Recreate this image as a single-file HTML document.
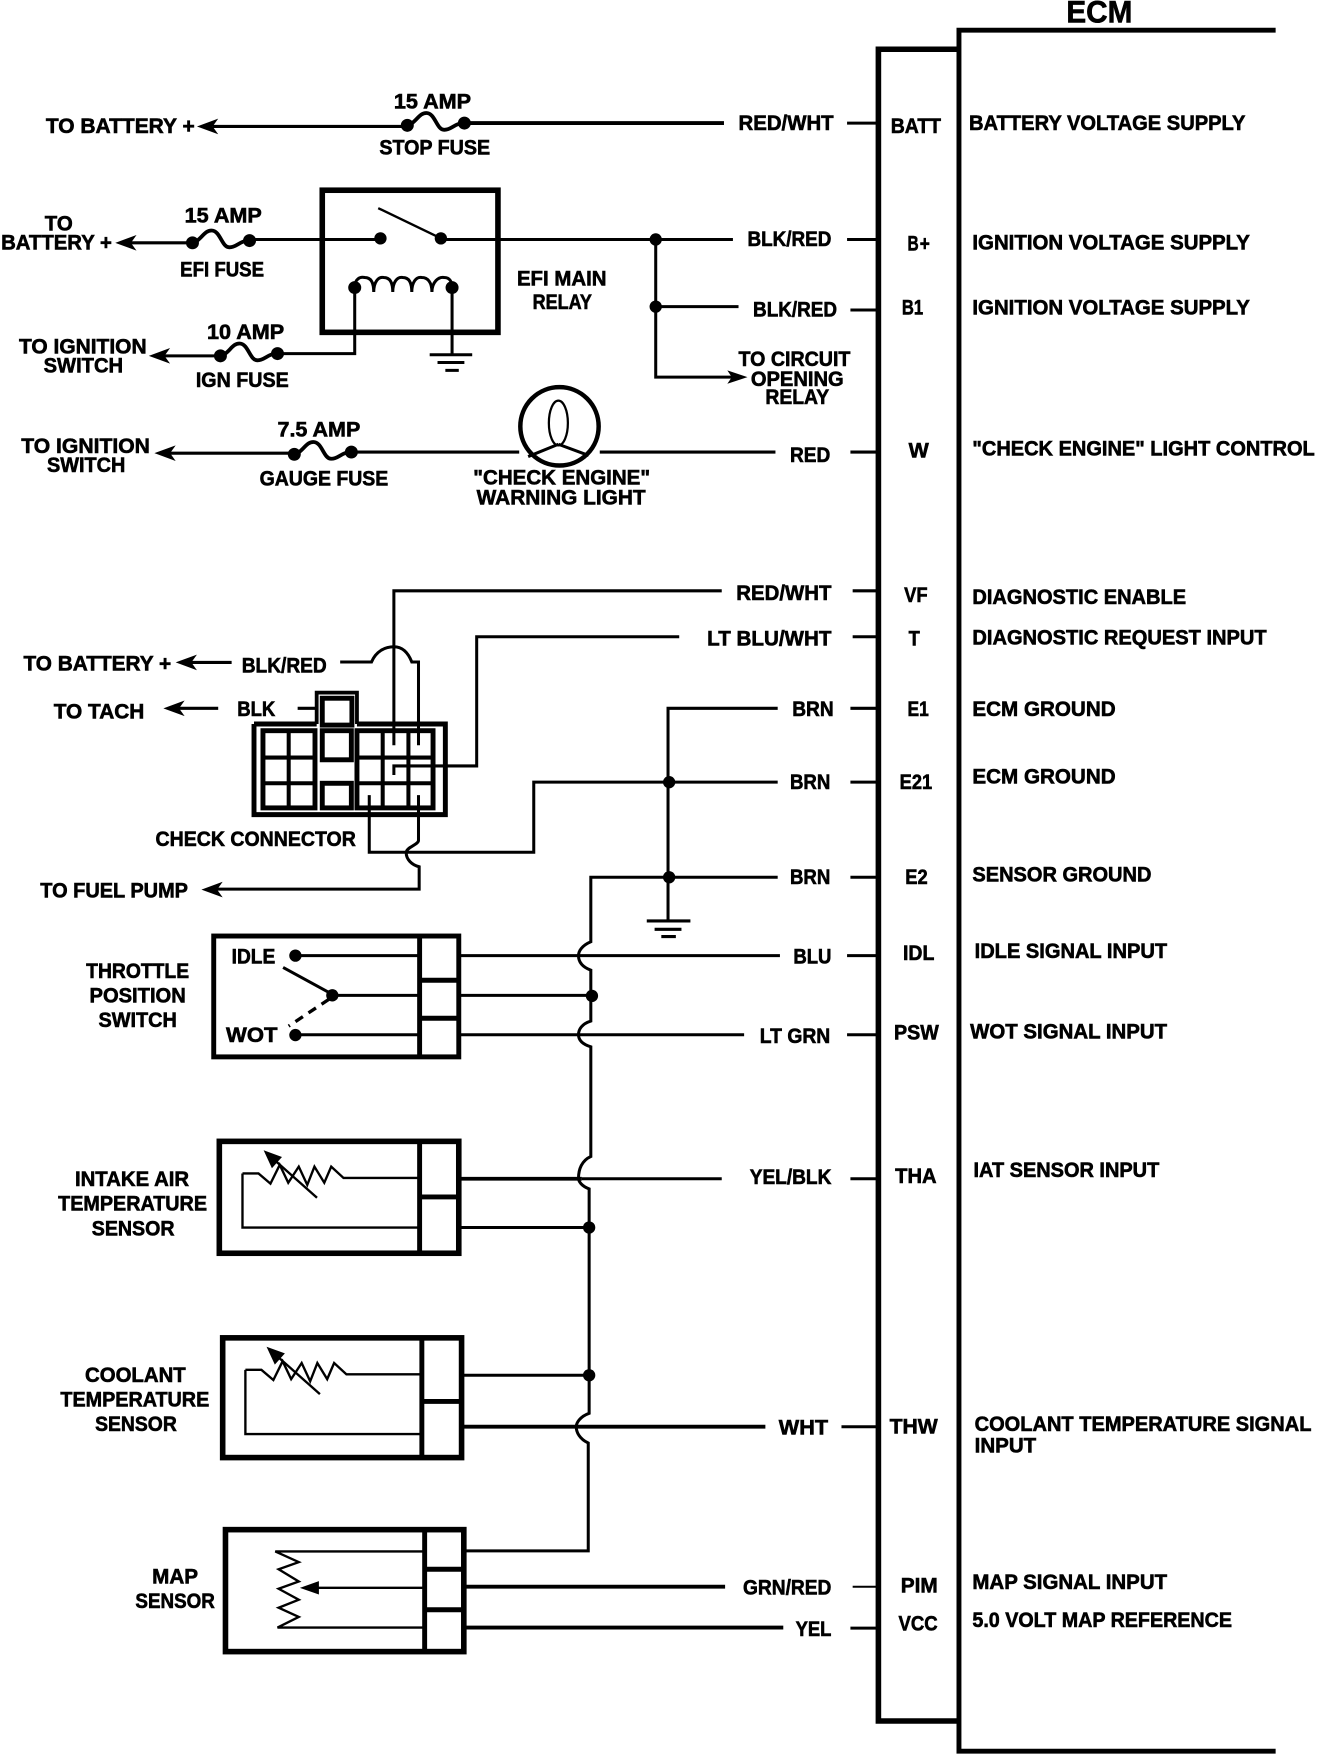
<!DOCTYPE html>
<html><head><meta charset="utf-8"><style>
html,body{margin:0;padding:0;background:#fff}
svg{display:block}
text{font-family:"Liberation Sans",sans-serif;font-weight:bold;font-size:19px;fill:#000;stroke:#000;stroke-width:.55px}
.w{fill:none;stroke:#000;stroke-width:2.7}
.t{fill:none;stroke:#000;stroke-width:3.4}
.b{fill:none;stroke:#000;stroke-width:4.4}
.n{fill:none;stroke:#000;stroke-width:2.1}
</style></head><body>
<svg width="1328" height="1754" viewBox="0 0 1186.8 1567.5" preserveAspectRatio="none" xmlns="http://www.w3.org/2000/svg">
<rect width="1187" height="1568" fill="#fff"/>
<defs>
<g id="fuse"><path d="M0,0C8,-2 10,-11 17,-11C25,-11 26,4 33,4C40,4 42,-2 51,-2" fill="none" stroke="#000" stroke-width="3.4"/><circle cx="0" cy="0" r="5.8"/><circle cx="51" cy="-2" r="5.8"/></g>
<polygon id="al" points="0,0 19,-7 14,0 19,7"/>
<g id="res"><path class="n" d="M216.7,1048.7H231L241.7,1057.8L250,1041L257.6,1057L267,1042.6L274.6,1058.9L281,1042.6L289.8,1057L296,1042.6L307,1052.7H375"/><path class="n" d="M283.3,1070.4L240,1032"/><polygon points="235.6,1028 252,1034 243,1044"/></g>
</defs>

<!-- ECM -->
<g transform="translate(0,-1)"><text x="953" y="21" textLength="59" lengthAdjust="spacingAndGlyphs" style="font-size:28px">ECM</text></g>
<path class="b" d="M1140,27H857V1565H1140"/>
<path class="b" d="M857,44H785V1538H857" style="stroke-width:5"/>

<!-- row 1 -->
<use href="#fuse" x="364" y="112"/>
<path class="w" d="M190,113H364"/><path class="t" d="M415,110H647"/>
<use href="#al" x="176" y="113"/>
<path class="w" d="M757,110H785"/>
<!-- row 2 -->
<use href="#fuse" x="172" y="217"/>
<path class="w" d="M115,217H172M222,214H340"/>
<use href="#al" x="103" y="217"/>
<rect class="b" x="288" y="170" width="157" height="127" style="stroke-width:5"/>
<circle cx="340" cy="213" r="5.5"/><circle cx="394" cy="213" r="5.5"/>
<path class="n" d="M338,186L394,213"/>
<path class="w" d="M394,214H655M757,214H785M586,214V337H655M586,274H660M760,277H785"/>
<circle cx="586" cy="214" r="5.5"/><circle cx="586" cy="274" r="5.5"/>
<polygon points="668,337 650,331 654,337 650,343"/>
<!-- coil -->
<path class="w" d="M317,257C317,249 322,247 326,248C331,248 334,252 334,261C334,252 338,247 343,248C348,248 351,252 351,261C351,252 355,247 360,248C365,248 368,252 368,261C368,252 372,247 377,248C382,248 386,252 386,261C386,252 392,247 397,248C402,248 404,252 404,257"/>
<circle cx="317" cy="257" r="5.8"/><circle cx="404" cy="257" r="5.8"/>
<path class="w" d="M317,257V316H246M404,257V316M384,317H422M391,324H415M398,331H410" />
<use href="#fuse" x="197" y="318"/>
<path class="w" d="M145,318H197"/>
<use href="#al" x="133" y="318"/>
<!-- row W -->
<use href="#fuse" x="263" y="406"/>
<path class="w" d="M150,405H263M312,404H464M536,404H693M760,404H785"/>
<use href="#al" x="138" y="405"/>
<circle cx="500" cy="381" r="35" fill="#fff" stroke="#000" stroke-width="4"/>
<ellipse cx="499" cy="378" rx="8.5" ry="20" fill="none" stroke="#000" stroke-width="2"/>
<path class="w" d="M499,397L472,408M499,397L526,407"/>

<!-- check connector wires -->
<path class="w" d="M645,528H352V666M607,569H426V684.5H352V692.6"/>
<path class="w" d="M304,591.6H332C336,582 344,578 352,578C360,578 365,584 368,591.6H374V666"/>
<path class="w" d="M330,710.6V761.6H477V699H695M374,710.6V751C374,755 363,757 363,762C363,768 368,773 374.6,774.6V794.6H190"/>
<use href="#al" x="180" y="795"/>
<path class="w" d="M762,528H785M762,569H785M266,633H283"/>
<path class="t" d="M283,647V619H319V647"/>
<path class="b" d="M227,647H283M319,647H398V728H227V647"/>
<rect class="b" x="288" y="624" width="26.5" height="24"/>
<rect class="b" x="235" y="653" width="46.5" height="69"/>
<path class="b" d="M258,653V722M235,677H281.5M235,700H281.5" style="stroke-width:3.6"/>
<rect class="b" x="288" y="653" width="26" height="26"/>
<rect class="b" x="288" y="700" width="26" height="22"/>
<rect class="b" x="319" y="653" width="68" height="69"/>
<path class="b" d="M342,653V722M365,653V722M319,677H387M319,700H387" style="stroke-width:3.6"/>
<use href="#al" x="157" y="592"/><path class="w" d="M170,592H207"/>
<use href="#al" x="146" y="633"/><path class="w" d="M158,633H195"/>

<!-- ground bus -->
<path class="w" d="M695,633H597V823M760,633H785M760,699H785M695,784H528V841.6C520,845 517,850 517,854C517,859 520,864 528,867V912.5C520,915 517,920 517,924.7C517,929 520,933 528,935.5V1033.5C520,1037 517,1045 517,1053C517,1056 520,1060 526.5,1062.5V1263C518,1266 515,1272 515,1275C515,1280 518,1286 525.7,1289.6V1386H416M760,784H785"/>
<circle cx="598" cy="699" r="5.5"/><circle cx="598" cy="784" r="5.5"/>
<path class="w" d="M578,823H617M585,830.5H609M591,837H604" style="stroke-width:2.8"/>

<!-- TPS -->
<rect class="b" x="191" y="836.5" width="219" height="108"/>
<path class="b" d="M375,836.5V944.5M375,876H410M375,910H410"/>
<path class="w" d="M264,854H375M411,854H697M757,854H785M297,889.5H375M411,889.5H529M264,924.7H375M411,924.7H665M757,924.7H785"/>
<circle cx="264" cy="854" r="5.5"/><circle cx="264" cy="925" r="5.5"/>
<circle cx="297" cy="889.5" r="5.5"/><circle cx="529" cy="890" r="5.5"/>
<path class="w" d="M253,864.6L297,888.6"/>
<path class="w" d="M294,893L258,917" stroke-dasharray="8 6" style="stroke-width:3"/>

<!-- IAT -->
<rect class="b" x="196" y="1020" width="214" height="100" style="stroke-width:5"/>
<path class="b" d="M375,1020V1120M375,1069.7H410"/>
<use href="#res"/>
<path class="n" d="M216.7,1048.7V1097H375"/>
<path class="t" d="M411,1053.4H520"/><path class="w" d="M520,1053.4H645M760,1053.4H785M411,1097H526.5"/>
<circle cx="526.5" cy="1097" r="5.5"/>

<!-- ECT -->
<rect class="b" x="199" y="1195.6" width="213.5" height="107" style="stroke-width:5"/>
<path class="b" d="M377,1195.6V1302.6M377,1252.4H412"/>
<g transform="translate(2.6,175.5)"><use href="#res"/></g>
<path class="n" d="M219.3,1224.2V1281.6H377"/>
<path class="w" d="M412,1229H527"/>
<path class="t" d="M412,1275H684"/><path class="w" d="M752,1275H785"/>
<circle cx="526.5" cy="1229" r="5.5"/>

<!-- MAP -->
<rect class="b" x="201.5" y="1367" width="213" height="109" style="stroke-width:5"/>
<path class="b" d="M379.5,1367V1476M379.5,1402.4H414M379.5,1438.6H414"/>
<path class="n" d="M379,1386.5H246L267,1396L249,1402.4L267,1413.3L249,1419.8L267,1429.6L249,1436.8L267,1445L248,1454.5H379"/>
<path class="n" d="M280,1419H379"/><polygon points="268,1419 285,1413 285,1425"/>
<path class="t" d="M416,1418H648M416,1454.5H700"/>
<path class="w" d="M762,1418H785" style="stroke-width:1.8"/><path class="w" d="M760,1455H785"/>

<g transform="translate(0,-1)">
<!-- wire labels -->
<text x="660" y="117" textLength="85" lengthAdjust="spacingAndGlyphs">RED/WHT</text>
<text x="668" y="221" textLength="75" lengthAdjust="spacingAndGlyphs">BLK/RED</text>
<text x="673" y="284" textLength="75" lengthAdjust="spacingAndGlyphs">BLK/RED</text>
<text x="706" y="414" textLength="36" lengthAdjust="spacingAndGlyphs">RED</text>
<text x="658" y="537" textLength="85" lengthAdjust="spacingAndGlyphs">RED/WHT</text>
<text x="632" y="578" textLength="111" lengthAdjust="spacingAndGlyphs">LT BLU/WHT</text>
<text x="708" y="641" textLength="37" lengthAdjust="spacingAndGlyphs">BRN</text>
<text x="706" y="706" textLength="36" lengthAdjust="spacingAndGlyphs">BRN</text>
<text x="706" y="791" textLength="36" lengthAdjust="spacingAndGlyphs">BRN</text>
<text x="709" y="862" textLength="34" lengthAdjust="spacingAndGlyphs">BLU</text>
<text x="679" y="933" textLength="63" lengthAdjust="spacingAndGlyphs">LT GRN</text>
<text x="670" y="1059" textLength="73" lengthAdjust="spacingAndGlyphs">YEL/BLK</text>
<text x="696" y="1283" textLength="44" lengthAdjust="spacingAndGlyphs">WHT</text>
<text x="664" y="1426" textLength="79" lengthAdjust="spacingAndGlyphs">GRN/RED</text>
<text x="711" y="1463" textLength="32" lengthAdjust="spacingAndGlyphs">YEL</text>
<!-- pins -->
<text x="796" y="120" textLength="45" lengthAdjust="spacingAndGlyphs">BATT</text>
<text x="811" y="225" textLength="10" lengthAdjust="spacingAndGlyphs">B</text>
<text x="822" y="225" textLength="9" lengthAdjust="spacingAndGlyphs">+</text>
<text x="806" y="282" textLength="19" lengthAdjust="spacingAndGlyphs">B1</text>
<text x="812" y="410" textLength="18" lengthAdjust="spacingAndGlyphs">W</text>
<text x="808" y="539" textLength="21" lengthAdjust="spacingAndGlyphs">VF</text>
<text x="812" y="578" textLength="10" lengthAdjust="spacingAndGlyphs">T</text>
<text x="811" y="641" textLength="19" lengthAdjust="spacingAndGlyphs">E1</text>
<text x="804" y="706" textLength="29" lengthAdjust="spacingAndGlyphs">E21</text>
<text x="809" y="791" textLength="20" lengthAdjust="spacingAndGlyphs">E2</text>
<text x="807" y="859" textLength="28" lengthAdjust="spacingAndGlyphs">IDL</text>
<text x="799" y="930" textLength="40" lengthAdjust="spacingAndGlyphs">PSW</text>
<text x="800" y="1058" textLength="37" lengthAdjust="spacingAndGlyphs">THA</text>
<text x="795" y="1282" textLength="43" lengthAdjust="spacingAndGlyphs">THW</text>
<text x="805" y="1424" textLength="33" lengthAdjust="spacingAndGlyphs">PIM</text>
<text x="803" y="1458" textLength="35" lengthAdjust="spacingAndGlyphs">VCC</text>
<!-- descriptions -->
<text x="866" y="117" textLength="247" lengthAdjust="spacingAndGlyphs">BATTERY VOLTAGE SUPPLY</text>
<text x="869" y="224" textLength="248" lengthAdjust="spacingAndGlyphs">IGNITION VOLTAGE SUPPLY</text>
<text x="869" y="282" textLength="248" lengthAdjust="spacingAndGlyphs">IGNITION VOLTAGE SUPPLY</text>
<text x="869" y="408" textLength="306" lengthAdjust="spacingAndGlyphs">"CHECK ENGINE" LIGHT CONTROL</text>
<text x="869" y="541" textLength="191" lengthAdjust="spacingAndGlyphs">DIAGNOSTIC ENABLE</text>
<text x="869" y="577" textLength="263" lengthAdjust="spacingAndGlyphs">DIAGNOSTIC REQUEST INPUT</text>
<text x="869" y="641" textLength="128" lengthAdjust="spacingAndGlyphs">ECM GROUND</text>
<text x="869" y="701" textLength="128" lengthAdjust="spacingAndGlyphs">ECM GROUND</text>
<text x="869" y="789" textLength="160" lengthAdjust="spacingAndGlyphs">SENSOR GROUND</text>
<text x="871" y="857" textLength="172" lengthAdjust="spacingAndGlyphs">IDLE SIGNAL INPUT</text>
<text x="867" y="929" textLength="176" lengthAdjust="spacingAndGlyphs">WOT SIGNAL INPUT</text>
<text x="870" y="1053" textLength="166" lengthAdjust="spacingAndGlyphs">IAT SENSOR INPUT</text>
<text x="871" y="1280" textLength="301" lengthAdjust="spacingAndGlyphs">COOLANT TEMPERATURE SIGNAL</text>
<text x="871" y="1299" textLength="55" lengthAdjust="spacingAndGlyphs">INPUT</text>
<text x="869" y="1421" textLength="174" lengthAdjust="spacingAndGlyphs">MAP SIGNAL INPUT</text>
<text x="869" y="1455" textLength="232" lengthAdjust="spacingAndGlyphs">5.0 VOLT MAP REFERENCE</text>
<!-- left labels -->
<text x="352" y="98" textLength="69" lengthAdjust="spacingAndGlyphs">15 AMP</text>
<text x="339" y="139" textLength="99" lengthAdjust="spacingAndGlyphs">STOP FUSE</text>
<text x="41" y="120" textLength="133" lengthAdjust="spacingAndGlyphs">TO BATTERY  +</text>
<text x="40" y="207" textLength="25" lengthAdjust="spacingAndGlyphs">TO</text>
<text x="1" y="224" textLength="99" lengthAdjust="spacingAndGlyphs">BATTERY +</text>
<text x="165" y="200" textLength="69" lengthAdjust="spacingAndGlyphs">15 AMP</text>
<text x="161" y="248" textLength="75" lengthAdjust="spacingAndGlyphs">EFI FUSE</text>
<text x="462" y="256" textLength="80" lengthAdjust="spacingAndGlyphs">EFI MAIN</text>
<text x="476" y="277" textLength="53" lengthAdjust="spacingAndGlyphs">RELAY</text>
<text x="660" y="328" textLength="100" lengthAdjust="spacingAndGlyphs">TO CIRCUIT</text>
<text x="671" y="346" textLength="83" lengthAdjust="spacingAndGlyphs">OPENING</text>
<text x="684" y="362" textLength="57" lengthAdjust="spacingAndGlyphs">RELAY</text>
<text x="17" y="317" textLength="114" lengthAdjust="spacingAndGlyphs">TO IGNITION</text>
<text x="39" y="334" textLength="71" lengthAdjust="spacingAndGlyphs">SWITCH</text>
<text x="185" y="304" textLength="69" lengthAdjust="spacingAndGlyphs">10 AMP</text>
<text x="175" y="347" textLength="83" lengthAdjust="spacingAndGlyphs">IGN FUSE</text>
<text x="19" y="406" textLength="115" lengthAdjust="spacingAndGlyphs">TO IGNITION</text>
<text x="42" y="423" textLength="70" lengthAdjust="spacingAndGlyphs">SWITCH</text>
<text x="248" y="391" textLength="74" lengthAdjust="spacingAndGlyphs">7.5 AMP</text>
<text x="232" y="435" textLength="115" lengthAdjust="spacingAndGlyphs">GAUGE FUSE</text>
<text x="423" y="434" textLength="158" lengthAdjust="spacingAndGlyphs">"CHECK ENGINE"</text>
<text x="426" y="452" textLength="151" lengthAdjust="spacingAndGlyphs">WARNING LIGHT</text>
<text x="21" y="600" textLength="132" lengthAdjust="spacingAndGlyphs">TO BATTERY +</text>
<text x="216" y="602" textLength="76" lengthAdjust="spacingAndGlyphs">BLK/RED</text>
<text x="48" y="643" textLength="81" lengthAdjust="spacingAndGlyphs">TO TACH</text>
<text x="212" y="641" textLength="34" lengthAdjust="spacingAndGlyphs">BLK</text>
<text x="139" y="757" textLength="179" lengthAdjust="spacingAndGlyphs">CHECK CONNECTOR</text>
<text x="36" y="803" textLength="132" lengthAdjust="spacingAndGlyphs">TO FUEL PUMP</text>
<text x="207" y="862" textLength="39" lengthAdjust="spacingAndGlyphs">IDLE</text>
<text x="202" y="932" textLength="46" lengthAdjust="spacingAndGlyphs">WOT</text>
<text x="77" y="875" textLength="92" lengthAdjust="spacingAndGlyphs">THROTTLE</text>
<text x="80" y="897" textLength="86" lengthAdjust="spacingAndGlyphs">POSITION</text>
<text x="88" y="919" textLength="70" lengthAdjust="spacingAndGlyphs">SWITCH</text>
<text x="67" y="1061" textLength="102" lengthAdjust="spacingAndGlyphs">INTAKE AIR</text>
<text x="52" y="1083" textLength="133" lengthAdjust="spacingAndGlyphs">TEMPERATURE</text>
<text x="82" y="1105" textLength="74" lengthAdjust="spacingAndGlyphs">SENSOR</text>
<text x="76" y="1236" textLength="90" lengthAdjust="spacingAndGlyphs">COOLANT</text>
<text x="54" y="1258" textLength="133" lengthAdjust="spacingAndGlyphs">TEMPERATURE</text>
<text x="85" y="1280" textLength="73" lengthAdjust="spacingAndGlyphs">SENSOR</text>
<text x="136" y="1416" textLength="41" lengthAdjust="spacingAndGlyphs">MAP</text>
<text x="121" y="1438" textLength="71" lengthAdjust="spacingAndGlyphs">SENSOR</text>
</g>
</svg>
</body></html>
